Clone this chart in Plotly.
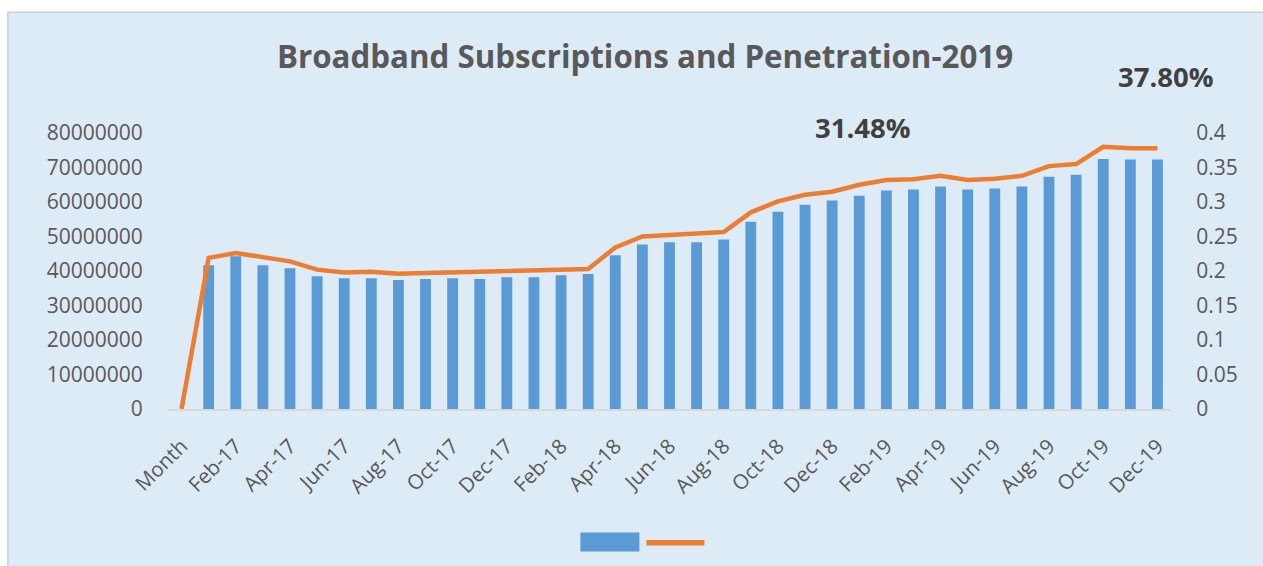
import plotly.graph_objects as go

# ---------------- data ----------------
months = ["Month",
          "Jan-17", "Feb-17", "Mar-17", "Apr-17", "May-17", "Jun-17", "Jul-17", "Aug-17",
          "Sep-17", "Oct-17", "Nov-17", "Dec-17",
          "Jan-18", "Feb-18", "Mar-18", "Apr-18", "May-18", "Jun-18", "Jul-18", "Aug-18",
          "Sep-18", "Oct-18", "Nov-18", "Dec-18",
          "Jan-19", "Feb-19", "Mar-19", "Apr-19", "May-19", "Jun-19", "Jul-19", "Aug-19",
          "Sep-19", "Oct-19", "Nov-19", "Dec-19"]

subscriptions = [None,
                 41700000, 44300000, 41700000, 40800000, 38500000, 37900000, 37900000, 37400000,
                 37700000, 37900000, 37700000, 38200000,
                 38200000, 38800000, 39100000, 44600000, 47700000, 48300000, 48300000, 49100000,
                 54300000, 57200000, 59200000, 60400000,
                 61800000, 63300000, 63600000, 64500000, 63600000, 63900000, 64500000, 67300000,
                 67900000, 72500000, 72300000, 72300000]

penetration = [0,
               0.219, 0.226, 0.220, 0.214, 0.202, 0.198, 0.199, 0.196,
               0.197, 0.198, 0.198, 0.200,
               0.201, 0.2026, 0.203, 0.234, 0.250, 0.252, 0.254, 0.2566,
               0.285, 0.301, 0.3105, 0.3148,
               0.325, 0.332, 0.333, 0.338, 0.332, 0.3336, 0.338, 0.352,
               0.355, 0.380, 0.378, 0.378]

left_ticks = [0, 10000000, 20000000, 30000000, 40000000, 50000000, 60000000, 70000000, 80000000]
right_ticks = [0, 0.05, 0.1, 0.15, 0.2, 0.25, 0.3, 0.35, 0.4]
right_tick_text = ["0", "0.05", "0.1", "0.15", "0.2", "0.25", "0.3", "0.35", "0.4"]
shown_months = months[::2]

title_text = "Broadband Subscriptions and Penetration-2019"
label_mid = "31.48%"
label_end = "37.80%"

# ---------------- layout geometry ----------------
# body margin is removed by the post script, so figure coords = screen coords
W, H = 1263, 566
PLOT_L, PLOT_R, PLOT_T, PLOT_B = 167.6, 1170.6, 133.3, 409.5
ML, MR, MT, MB = PLOT_L, W - PLOT_R, PLOT_T, H - PLOT_B
PW = PLOT_R - PLOT_L
PH = PLOT_B - PLOT_T

def px(x):
    """screen x (reference pixels) -> paper coordinate"""
    return (x - PLOT_L) / PW

def py(y):
    """screen y (reference pixels) -> paper coordinate"""
    return (PLOT_B - y) / PH

FONT = "Open Sans"
GREY = "#595959"
BLUE = "#5B9BD5"
ORANGE = "#ED7D31"
BG = "#DDEBF7"

fig = go.Figure()
fig.add_trace(go.Bar(x=months, y=subscriptions, marker=dict(color=BLUE, line=dict(width=0)),
                     name="", showlegend=False, yaxis="y"))
fig.add_trace(go.Scatter(x=months, y=penetration, mode="lines",
                         line=dict(color=ORANGE, width=4.5), name="", showlegend=False,
                         yaxis="y2"))

fig.update_layout(
    width=W, height=H,
    margin=dict(l=ML, r=MR, t=MT, b=MB, pad=0),
    paper_bgcolor="white",
    plot_bgcolor=BG,
    bargap=0.6,
    showlegend=False,
    font=dict(family=FONT, size=21, color=GREY),
    title=dict(text=title_text, x=645 / W, xref="container", xanchor="center",
               y=1 - 57 / H, yref="container", yanchor="middle",
               font=dict(family=FONT, size=31.3, color=GREY, weight="bold")),
    xaxis=dict(type="category", categoryorder="array", categoryarray=months,
               range=[-0.5, len(months) - 0.5],
               tickmode="array", tickvals=shown_months, ticktext=shown_months,
               tickangle=-45, ticks="outside", ticklen=15, tickcolor="rgba(0,0,0,0)",
               showline=True, linecolor="#D9D9D9", linewidth=2,
               showgrid=False, zeroline=False,
               tickfont=dict(family=FONT, size=20.5, color=GREY)),
    yaxis=dict(range=[0, 80000000], tickmode="array", tickvals=left_ticks,
               tickformat="d", showgrid=False, zeroline=False, showline=False,
               ticks="outside", ticklen=20, tickcolor="rgba(0,0,0,0)",
               tickfont=dict(family=FONT, size=21, color=GREY)),
    yaxis2=dict(range=[0, 0.4], overlaying="y", side="right", tickmode="array",
                tickvals=right_ticks, ticktext=right_tick_text,
                showgrid=False, zeroline=False, showline=False,
                ticks="outside", ticklen=20, tickcolor="rgba(0,0,0,0)",
                tickfont=dict(family=FONT, size=21, color=GREY)),
)

shapes = [
    # chart panel background with border (extends past the right/bottom edges)
    dict(type="rect", xref="paper", yref="paper", layer="below",
         x0=px(7.5), x1=px(W + 20), y0=py(H + 20), y1=py(12.5),
         fillcolor=BG, line=dict(color="#D0D0D0", width=1.5)),
    # manual legend
    dict(type="rect", xref="paper", yref="paper", layer="above",
         x0=px(580), x1=px(639), y0=py(552), y1=py(533),
         fillcolor=BLUE, line=dict(width=0)),
    dict(type="line", xref="paper", yref="paper", layer="above",
         x0=px(646), x1=px(704), y0=py(543.3), y1=py(543.3),
         line=dict(color=ORANGE, width=5.5)),
]
fig.update_layout(shapes=shapes)

fig.add_annotation(text=label_mid, xref="paper", yref="paper", x=px(863), y=py(128),
                   xanchor="center", yanchor="middle", showarrow=False,
                   font=dict(family=FONT, size=27.5, color="#404040", weight="bold"))
fig.add_annotation(text=label_end, xref="paper", yref="paper", x=px(1165.5), y=py(77),
                   xanchor="center", yanchor="middle", showarrow=False,
                   font=dict(family=FONT, size=27.5, color="#404040", weight="bold"))

fig.write_html("out.html",
               config={"displayModeBar": False},
               post_script="document.documentElement.style.margin='0';"
                           "document.body.style.margin='0';"
                           "document.body.style.overflow='hidden';")
